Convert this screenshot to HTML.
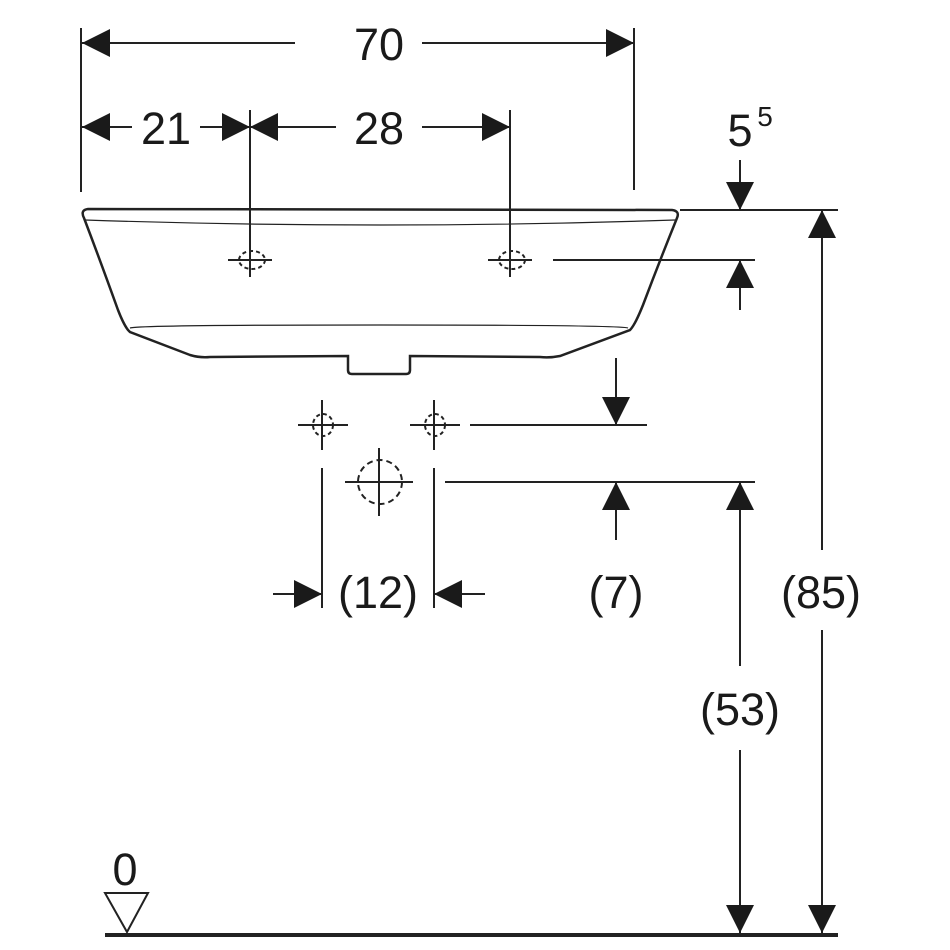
<!DOCTYPE html>
<html><head><meta charset="utf-8"><style>
html,body{margin:0;padding:0;background:#fff;width:950px;height:950px;overflow:hidden}
svg text{font-family:"Liberation Sans",sans-serif;font-size:45px;fill:#1a1a1a;text-anchor:middle}
</style></head><body>
<svg width="950" height="950" viewBox="0 0 950 950" xmlns="http://www.w3.org/2000/svg">
<defs>
<path id="ad" d="M-14,-28 L14,-28 L0,0 Z" fill="#1a1a1a"/>
</defs>
<g stroke="#222" stroke-width="2" fill="none">
<line x1="81" y1="28" x2="81" y2="192"/>
<line x1="634" y1="28" x2="634" y2="190"/>
<line x1="250" y1="110" x2="250" y2="250"/>
<line x1="510" y1="110" x2="510" y2="250"/>
<line x1="82" y1="43" x2="295" y2="43"/>
<line x1="422" y1="43" x2="634" y2="43"/>
<line x1="82" y1="127" x2="132" y2="127"/>
<line x1="200" y1="127" x2="250" y2="127"/>
<line x1="250" y1="127" x2="336" y2="127"/>
<line x1="422" y1="127" x2="510" y2="127"/>
<line x1="740" y1="160" x2="740" y2="210"/>
<line x1="680" y1="210" x2="838" y2="210"/>
<line x1="553" y1="260" x2="755" y2="260"/>
<line x1="740" y1="260" x2="740" y2="310"/>
<line x1="822" y1="210" x2="822" y2="550"/>
<line x1="822" y1="630" x2="822" y2="933"/>
<line x1="616" y1="358" x2="616" y2="425"/>
<line x1="470" y1="425" x2="647" y2="425"/>
<line x1="445" y1="482" x2="755" y2="482"/>
<line x1="616" y1="482" x2="616" y2="540"/>
<line x1="740" y1="482" x2="740" y2="666"/>
<line x1="740" y1="750" x2="740" y2="933"/>
<line x1="322" y1="468" x2="322" y2="608"/>
<line x1="434" y1="468" x2="434" y2="608"/>
<line x1="273" y1="594" x2="322" y2="594"/>
<line x1="434" y1="594" x2="485" y2="594"/>
<line x1="228" y1="260" x2="272" y2="260"/><line x1="250" y1="243" x2="250" y2="277"/>
<line x1="488" y1="260" x2="532" y2="260"/><line x1="510" y1="243" x2="510" y2="277"/>
<ellipse cx="252" cy="260" rx="13" ry="9" stroke-dasharray="4 3"/>
<ellipse cx="512" cy="260" rx="13" ry="9" stroke-dasharray="4 3"/>
<line x1="298" y1="425" x2="348" y2="425"/><line x1="322" y1="400" x2="322" y2="450"/>
<line x1="410" y1="425" x2="460" y2="425"/><line x1="434" y1="400" x2="434" y2="450"/>
<ellipse cx="323" cy="425" rx="10" ry="11" stroke-dasharray="4 3"/>
<ellipse cx="435" cy="425" rx="10" ry="11" stroke-dasharray="4 3"/>
<line x1="345" y1="482" x2="413" y2="482"/><line x1="379" y1="448" x2="379" y2="516"/>
<circle cx="380" cy="482" r="22" stroke-dasharray="6 4"/>
<path d="M88,209 L672,210 Q680,211 677,218 Q660,260 643,305 Q635,325 630,330 L560,356 Q550,358 540,357 L410,356 L410,370 Q410,374 406,374 L352,374 Q348,374 348,370 L348,356 L210,357 Q200,358 190,355 L130,332 Q125,328 118,310 Q100,260 84,218 Q80,210 88,209 Z" stroke-width="2.5"/>
<path d="M85,220 Q380,230 675,220" stroke-width="1.2"/>
<path d="M130,328 Q140,325 380,325 Q620,325 628,328" stroke-width="1.2"/>
<line x1="105" y1="935" x2="838" y2="935" stroke-width="4"/>
<path d="M105,893 L148,893 L127,932 Z" stroke-width="2"/>
</g>
<use href="#ad" transform="translate(82,43) rotate(90)"/>
<use href="#ad" transform="translate(634,43) rotate(-90)"/>
<use href="#ad" transform="translate(82,127) rotate(90)"/>
<use href="#ad" transform="translate(250,127) rotate(-90)"/>
<use href="#ad" transform="translate(250,127) rotate(90)"/>
<use href="#ad" transform="translate(510,127) rotate(-90)"/>
<use href="#ad" transform="translate(740,210)"/>
<use href="#ad" transform="translate(740,260) rotate(180)"/>
<use href="#ad" transform="translate(822,210) rotate(180)"/>
<use href="#ad" transform="translate(822,933)"/>
<use href="#ad" transform="translate(616,425)"/>
<use href="#ad" transform="translate(616,482) rotate(180)"/>
<use href="#ad" transform="translate(740,482) rotate(180)"/>
<use href="#ad" transform="translate(740,933)"/>
<use href="#ad" transform="translate(322,594) rotate(-90)"/>
<use href="#ad" transform="translate(434,594) rotate(90)"/>
<text x="379" y="60">70</text>
<text x="166" y="144">21</text>
<text x="379" y="144">28</text>
<text x="740" y="146">5</text><text x="765" y="126" style="font-size:28px">5</text>
<text x="378" y="608">(12)</text>
<text x="616" y="608">(7)</text>
<text x="821" y="608">(85)</text>
<text x="740" y="725">(53)</text>
<text x="125" y="885">0</text>
</svg>
</body></html>
